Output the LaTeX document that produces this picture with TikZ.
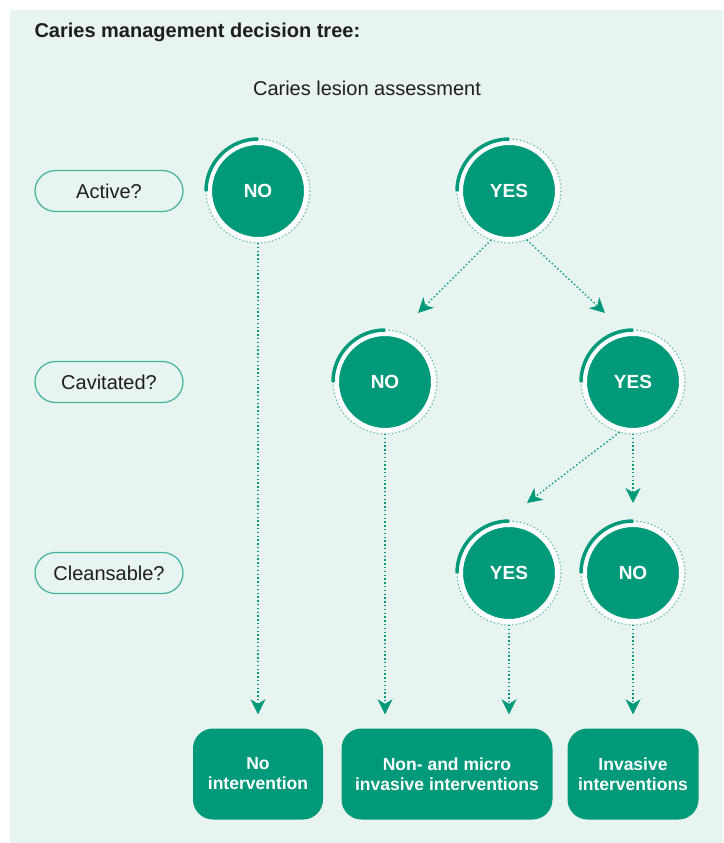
\documentclass[tikz,border=0pt]{standalone}
\usepackage{fontspec}
\setmainfont{Liberation Sans}
\usetikzlibrary{positioning}
\usetikzlibrary{shapes.geometric, arrows.meta}
\definecolor{cariesTeal}{HTML}{009A7B}
\definecolor{cariesMint}{HTML}{E8F4F0}
\definecolor{pillText}{HTML}{1E1E1E}
\tikzstyle{answer} = [circle, minimum size=97pt, inner sep=0pt, outer sep=3.5pt, fill=cariesTeal, draw=white, line width=5pt, text=white, font=\fontsize{19}{20}\selectfont\bfseries]
\tikzstyle{question} = [rectangle, rounded corners=20.5pt, minimum width=148pt, minimum height=41pt, draw=cariesTeal!75, line width=1.2pt, text=pillText, font=\fontsize{20}{22}\selectfont]
\tikzstyle{outcome} = [rectangle, rounded corners=20pt, minimum height=91pt, fill=cariesTeal, text=white, align=center, font=\fontsize{17.5}{20}\selectfont\bfseries]
\tikzstyle{arrow} = [cariesTeal, line width=1.4pt, dash pattern=on 1.4pt off 2.4pt, -{Stealth[length=15pt,width=15pt,inset=4.5pt]}]
\tikzstyle{ringdots} = [cariesTeal!70, line width=1.1pt, dash pattern=on 1.1pt off 2.6pt]
\tikzstyle{ringbar} = [cariesTeal, line width=3.5pt]

\begin{document}
\begin{tikzpicture}[x=1pt, y=-1pt, node distance=191pt]

	\useasboundingbox (0,0) rectangle (723,843);
	\fill [cariesMint] (10,10) rectangle (723,843);

	\node (title) [anchor=west, text=pillText, font=\fontsize{20}{22}\selectfont\bfseries] at (31,32) {Caries management decision tree:};
	\node (assess) [text=pillText, font=\fontsize{20}{22}\selectfont] at (367,88) {Caries lesion assessment};

	\node (activeNo) [answer] at (258,191) {NO};
	\node (activeYes) [answer, right of=activeNo, node distance=251pt] {YES};
	\node (cavNo) [answer, below of=activeYes, xshift=-124pt] {NO};
	\node (cavYes) [answer, below of=activeYes, xshift=124pt] {YES};
	\node (cleanYes) [answer, below of=cavYes, xshift=-124pt] {YES};
	\node (cleanNo) [answer, below of=cavYes] {NO};

	\node (activeQ) [question, left of=activeNo, node distance=149pt] {Active?};
	\node (cavQ) [question, below of=activeQ] {Cavitated?};
	\node (cleanQ) [question, below of=cavQ] {Cleansable?};

	\node (noInt) [outcome, minimum width=130pt, below of=activeNo, node distance=583pt] {No\\intervention};
	\node (microInt) [outcome, minimum width=211pt, below of=cleanYes, node distance=201pt, xshift=-62pt] {Non- and micro\\invasive interventions};
	\node (invInt) [outcome, minimum width=131pt, below of=cleanNo, node distance=201pt] {Invasive\\interventions};

	% rings round the answers
	\foreach \n in {activeNo,activeYes,cavNo,cavYes,cleanYes,cleanNo}{
		\draw [ringdots] (\n.90) arc (90:-180:52pt);
		\draw [ringbar] (\n.90) arc (90:180:52pt);
	}

	\coordinate (yesLeft) at (418,313);
	\coordinate (yesRight) at (605,313);
	\coordinate (cavLeft) at (527,503);

	\draw [arrow] (activeYes.-110) -- (yesLeft);
	\draw [arrow] (activeYes.-70) -- (yesRight);
	\draw [arrow] (cavYes.-105) -- (cavLeft);
	\draw [arrow, shorten >=18pt] (cavYes) -- (cleanNo);

	\draw [arrow, shorten >=14pt] (activeNo) -- (noInt);
	\draw [arrow, shorten >=14pt] (cavNo) -- (cavNo |- microInt.north);
	\draw [arrow, shorten >=14pt] (cleanYes) -- (cleanYes |- microInt.north);
	\draw [arrow, shorten >=14pt] (cleanNo) -- (invInt);
\end{tikzpicture}
\end{document}
